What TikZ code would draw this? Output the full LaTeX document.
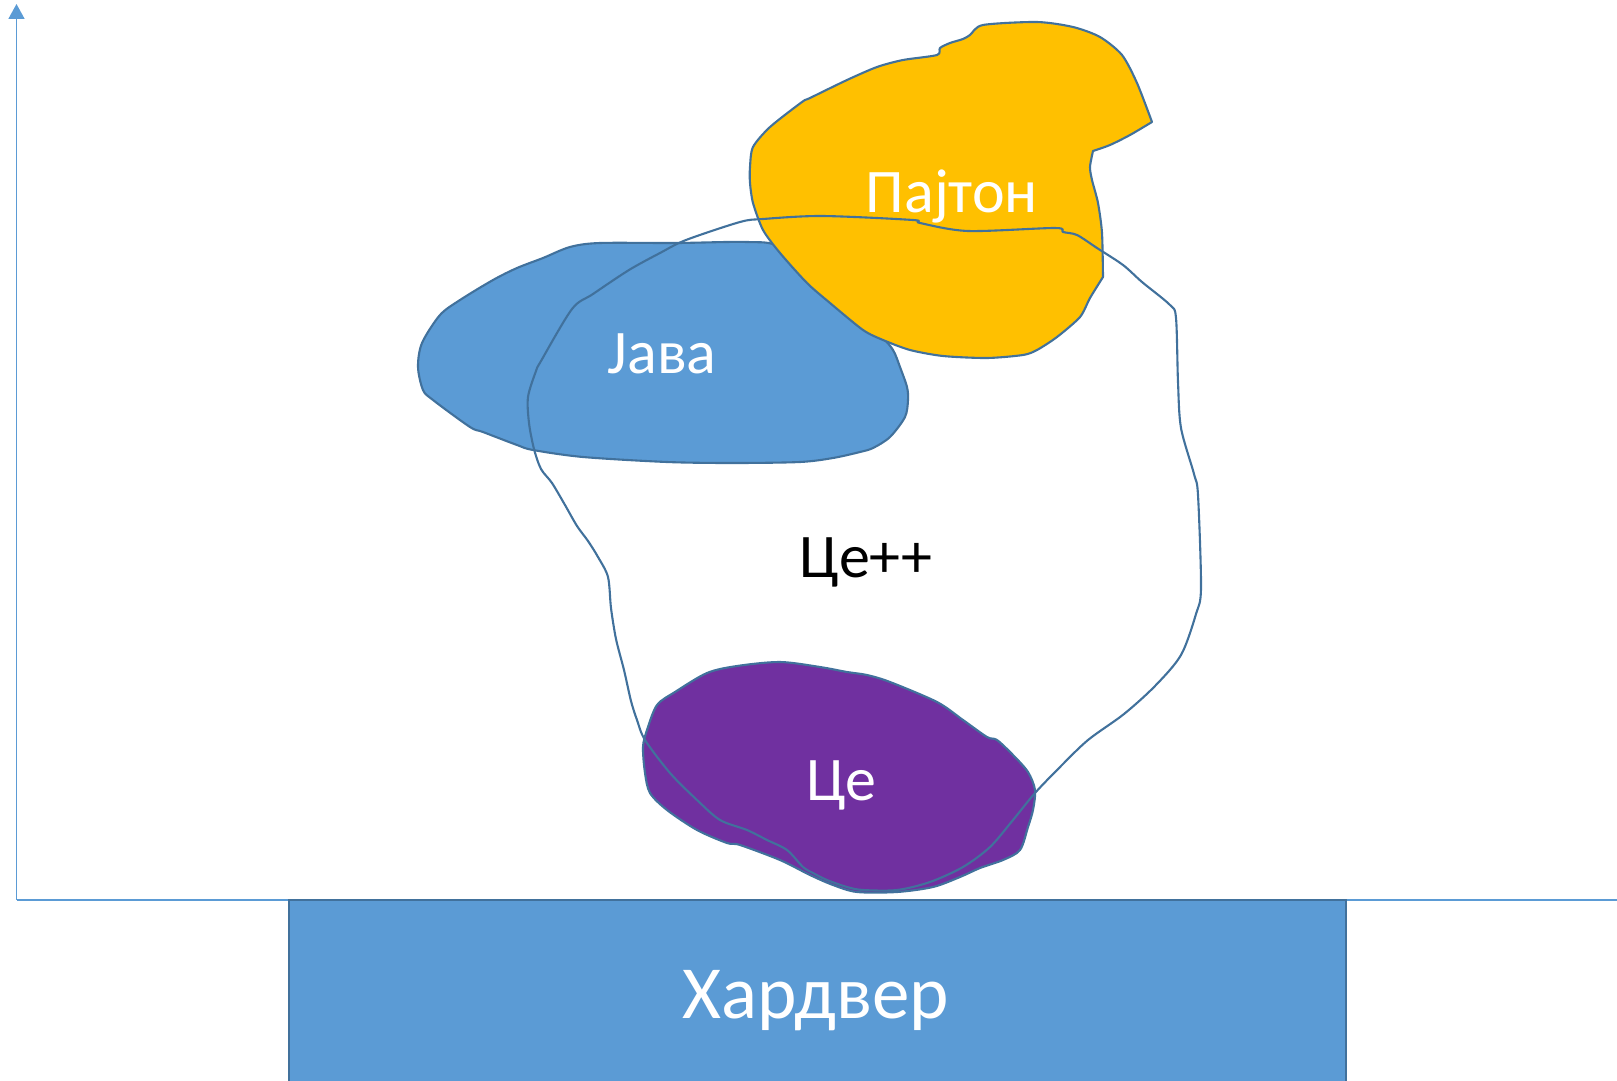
\documentclass[tikz,border=0pt]{standalone}
\usepackage{fontspec}
\setmainfont{Carlito}
\usetikzlibrary{arrows.meta}
\definecolor{axisblue}{HTML}{5B9BD5}
\definecolor{edgeblue}{HTML}{41719C}
\definecolor{javablue}{HTML}{5B9BD5}
\definecolor{pyyellow}{HTML}{FFC000}
\definecolor{cpurple}{HTML}{7030A0}
\tikzset{
  axisline/.style={draw=axisblue, line width=1.8pt},
  blob/.style={draw=edgeblue, line width=2.1pt, line join=round},
  lbl/.style={anchor=base, text=white, inner sep=0pt, font=\fontsize{62}{70}\selectfont},
}
\begin{document}
\begin{tikzpicture}[x=1pt,y=-1pt]
\useasboundingbox (0,0) rectangle (1617,1081);
% axes
\coordinate (origin) at (16.5,900);
\coordinate (ytop) at (16.5,4);
\coordinate (xend) at (1617,900);
\draw[axisline, -{Triangle[width=16pt,length=15pt]}] (origin) -- (ytop);
\draw[axisline] (origin) -- (xend);
% hardware
\fill[javablue] (289,900) rectangle (1346,1090);
\draw[edgeblue, line width=1.8pt] (289,1090) -- (289,900) -- (1346,900) -- (1346,1090);
\node[lbl, font=\fontsize{75}{86}\selectfont] (hw) at (816,1018) {Хардвер};
% Java blob
\filldraw[blob, fill=javablue] plot[smooth cycle, tension=0.5] coordinates {
(418,367) (422,343) (440,315) (460,300) (493,280) (517,268) (543,258) (570,247)
(600,243) (677,243) (747,242) (780,247) (830,285) (880,335) (893,350) (900,367)
(907,387) (908,400) (905,417) (890,437) (873,448) (860,452) (833,458) (800,462)
(733,463) (667,462) (583,457) (533,450) (517,445) (483,432) (470,427) (433,400) (423,390)};
% Python blob
\filldraw[blob, fill=pyyellow]
  plot[smooth, tension=0.45] coordinates {(1152,122) (1130,135) (1110,145) (1093,151)}
  -- plot[smooth, tension=0.45] coordinates {(1093,151) (1090,167) (1092,180) (1098,203) (1102,233) (1103,277)}
  -- plot[smooth, tension=0.45] coordinates {(1103,277) (1090,298) (1080,317) (1057,337) (1037,350) (1023,355) (987,358)
(943,356) (910,350) (883,340) (863,330) (830,303) (807,283) (780,253) (763,230) (753,203) (750,183)
(750,167) (753,147) (770,127) (802,102) (810,98) (847,80) (877,67) (903,60) (937,55)
(940,48) (950,43) (963,39) (970,35) (983,25) (1037,22) (1073,27) (1100,37) (1122,55)
(1137,83) (1152,122)} -- cycle;
% C blob
\filldraw[blob, fill=cpurple] plot[smooth cycle, tension=0.5] coordinates {
(657,705) (675,692) (707,673) (737,666) (780,662) (820,667) (847,672) (867,675)
(890,682) (937,702) (963,720) (987,737) (997,740) (1013,755) (1028,772) (1035,790)
(1033,810) (1028,827) (1020,850) (1003,860) (980,868) (960,877) (933,887) (897,892)
(857,892) (833,885) (810,875) (780,860) (740,845) (727,843) (697,830) (667,810)
(650,793) (645,773) (643,747) (647,730)};
% C++ outline
\draw[blob] plot[smooth cycle, tension=0.5] coordinates {
(528,397) (536,371) (541,361) (572,309) (593,294) (629,270) (660,253) (686,240)
(740,222) (763,219) (822,216) (913,220) (920,223) (968,231) (1055,228) (1063,232)
(1077,235) (1097,248) (1123,265) (1142,282) (1170,305) (1176,318) (1178,382) (1181,428)
(1194,474) (1198,495) (1201,588) (1196,614) (1181,655) (1155,686) (1124,714) (1088,740)
(1060,767) (1035,793) (1013,820) (990,847) (963,867) (930,882) (897,890) (863,890)
(847,887) (827,880) (813,873) (803,867) (787,850) (767,840) (747,830) (720,820)
(697,800) (670,773) (645,740) (637,720) (631,701) (624,670) (616,639) (611,608)
(608,577) (598,557) (588,541) (577,526) (565,505) (552,483) (541,469) (534,449) (529,423)};
% labels
\node[lbl] (java) at (662,373) {Јава};
\node[lbl] (python) at (952,212) {Пајтон};
\node[lbl] (c) at (841,800) {Це};
\node[lbl, text=black] (cpp) at (866,577) {Це++};
\end{tikzpicture}
\end{document}
